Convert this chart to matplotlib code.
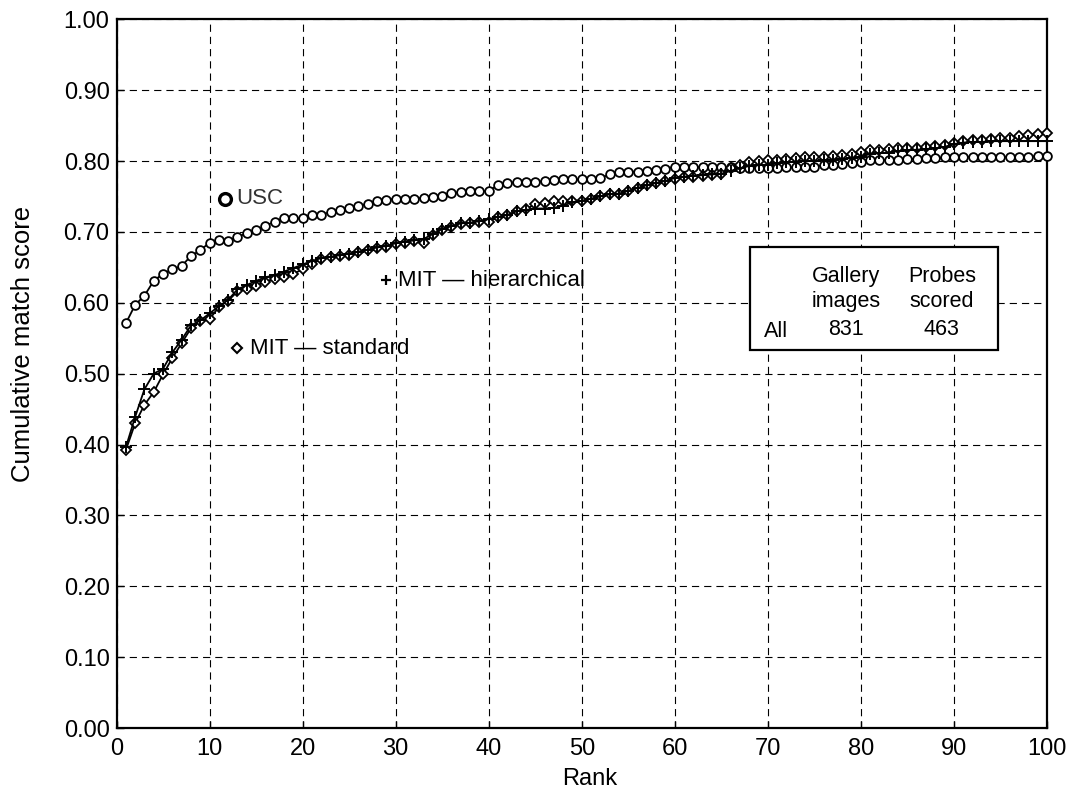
import matplotlib
matplotlib.use("Agg")
import matplotlib.pyplot as plt
from matplotlib.patches import Rectangle

plt.rcParams['font.family'] = ['Liberation Sans', 'DejaVu Sans']

# Cumulative match scores by rank (1..100)
ranks = list(range(1, 101))

usc = [
    0.571, 0.597, 0.610, 0.631, 0.641, 0.647, 0.652, 0.666, 0.674, 0.685,
    0.688, 0.687, 0.693, 0.698, 0.702, 0.709, 0.714, 0.720, 0.719, 0.719,
    0.724, 0.724, 0.728, 0.731, 0.734, 0.737, 0.739, 0.743, 0.745, 0.747,
    0.747, 0.747, 0.748, 0.749, 0.751, 0.755, 0.756, 0.757, 0.757, 0.758,
    0.766, 0.769, 0.770, 0.770, 0.770, 0.772, 0.773, 0.774, 0.774, 0.774,
    0.775, 0.776, 0.781, 0.785, 0.785, 0.785, 0.786, 0.788, 0.789, 0.792,
    0.792, 0.792, 0.791, 0.791, 0.791, 0.791, 0.790, 0.790, 0.790, 0.790,
    0.790, 0.791, 0.791, 0.792, 0.792, 0.794, 0.795, 0.796, 0.797, 0.799,
    0.801, 0.801, 0.802, 0.802, 0.803, 0.803, 0.804, 0.804, 0.805, 0.805,
    0.806, 0.806, 0.806, 0.806, 0.806, 0.806, 0.806, 0.806, 0.807, 0.807,
]

mit_standard = [
    0.392, 0.430, 0.456, 0.474, 0.499, 0.522, 0.543, 0.564, 0.574, 0.577,
    0.594, 0.603, 0.616, 0.620, 0.624, 0.630, 0.633, 0.637, 0.641, 0.647,
    0.654, 0.662, 0.664, 0.666, 0.668, 0.671, 0.674, 0.677, 0.678, 0.683,
    0.685, 0.687, 0.684, 0.696, 0.703, 0.707, 0.711, 0.713, 0.714, 0.714,
    0.721, 0.724, 0.729, 0.732, 0.739, 0.741, 0.744, 0.744, 0.744, 0.744,
    0.747, 0.750, 0.753, 0.753, 0.758, 0.762, 0.766, 0.769, 0.772, 0.775,
    0.777, 0.778, 0.779, 0.780, 0.782, 0.790, 0.794, 0.798, 0.800, 0.801,
    0.802, 0.803, 0.804, 0.805, 0.806, 0.806, 0.807, 0.808, 0.810, 0.813,
    0.815, 0.816, 0.817, 0.818, 0.818, 0.819, 0.820, 0.821, 0.822, 0.826,
    0.828, 0.829, 0.830, 0.831, 0.832, 0.833, 0.835, 0.836, 0.838, 0.840,
]

mit_hierarchical = [
    0.396, 0.439, 0.478, 0.500, 0.507, 0.530, 0.548, 0.568, 0.575, 0.585,
    0.595, 0.604, 0.619, 0.625, 0.631, 0.636, 0.639, 0.644, 0.649, 0.654,
    0.659, 0.663, 0.665, 0.667, 0.669, 0.672, 0.675, 0.678, 0.680, 0.684,
    0.686, 0.688, 0.690, 0.697, 0.704, 0.708, 0.712, 0.713, 0.715, 0.718,
    0.721, 0.724, 0.729, 0.731, 0.733, 0.733, 0.734, 0.737, 0.742, 0.744,
    0.747, 0.750, 0.753, 0.754, 0.758, 0.762, 0.766, 0.769, 0.772, 0.776,
    0.778, 0.779, 0.780, 0.781, 0.782, 0.786, 0.790, 0.793, 0.794, 0.795,
    0.797, 0.798, 0.799, 0.800, 0.800, 0.801, 0.802, 0.803, 0.804, 0.806,
    0.810, 0.811, 0.812, 0.814, 0.815, 0.816, 0.817, 0.818, 0.820, 0.824,
    0.826, 0.827, 0.827, 0.828, 0.828, 0.828, 0.828, 0.828, 0.828, 0.828,
]

x_ticks = list(range(0, 101, 10))
y_ticks = [i / 10 for i in range(11)]

table_header_1 = ["Gallery", "Probes"]
table_header_2 = ["images", "scored"]
table_row_label = "All"
table_row_values = ["831", "463"]

fig = plt.figure(figsize=(10.79, 7.96), dpi=100)
ax = fig.add_axes([0.108, 0.0854, 0.8623, 0.8904])

line_kw = dict(color='black', lw=1.3, clip_on=False, markerfacecolor='white',
               markeredgecolor='black')
ax.plot(ranks, usc, marker='o', ms=6.3, mew=1.3, zorder=3, **line_kw)
ax.plot(ranks, mit_standard, marker='D', ms=5.2, mew=1.3, zorder=4, **line_kw)
ax.plot(ranks, mit_hierarchical, marker='+', ms=8, mew=1.4, zorder=5,
        **line_kw)

ax.set_xlim(0, 100)
ax.set_ylim(0, 1.0)
ax.set_xticks(x_ticks)
ax.set_yticks(y_ticks)
ax.set_yticklabels([f"{v:.2f}" for v in y_ticks])
ax.tick_params(direction='in', length=5, width=1.0, labelsize=17,
               colors='black')
ax.tick_params(axis='x', pad=7)
ax.tick_params(axis='y', pad=5)

ax.grid(True, color='black', lw=0.8, linestyle=(0, (6.5, 4.5)))
ax.set_axisbelow(True)
for s in ax.spines.values():
    s.set_linewidth(1.6)

ax.set_xlabel("Rank", fontsize=17)
ax.xaxis.set_label_coords(0.5085, -0.072)
ax.xaxis.label.set_va('center')
ax.set_ylabel("Cumulative match score", fontsize=18.5)
ax.yaxis.set_label_coords(-0.101, 0.542)
ax.yaxis.label.set_va('center')

# Series labels placed beside the curves
label_fs = 16
ax.plot([11.66], [0.747], marker='o', ms=8.5, mew=2.4, mfc='white',
        mec='black', ls='none', zorder=6)
ax.annotate("USC", (11.66, 0.747), xytext=(8, 0), textcoords='offset points',
            ha='left', va='center', fontsize=label_fs, color='#333333')

ax.plot([12.9], [0.536], marker='D', ms=5.0, mew=1.5, mfc='white',
        mec='black', ls='none', zorder=6)
ax.annotate("MIT — standard", (12.9, 0.536), xytext=(10, 0),
            textcoords='offset points', ha='left', va='center',
            fontsize=label_fs, color='black')

ax.plot([29.0], [0.632], marker='+', ms=7, mew=1.6, color='black',
        ls='none', zorder=6)
ax.annotate("MIT — hierarchical", (29.0, 0.632), xytext=(8.5, 0),
            textcoords='offset points', ha='left', va='center',
            fontsize=label_fs, color='black')

# Summary box
box = Rectangle((0.681, 0.534), 0.266, 0.144, transform=ax.transAxes,
                facecolor='white', edgecolor='black', lw=1.6, zorder=7)
ax.add_patch(box)
table_fs = 15.5
col_x = [0.784, 0.887]
for cx, h1, h2, val in zip(col_x, table_header_1, table_header_2,
                           table_row_values):
    ax.text(cx, 0.637, h1, transform=ax.transAxes, ha='center', va='center',
            fontsize=table_fs, zorder=8)
    ax.text(cx, 0.602, h2, transform=ax.transAxes, ha='center', va='center',
            fontsize=table_fs, zorder=8)
    ax.text(cx, 0.562, val, transform=ax.transAxes, ha='center', va='center',
            fontsize=table_fs, zorder=8)
ax.text(0.709, 0.559, table_row_label, transform=ax.transAxes, ha='center',
        va='center', fontsize=table_fs, zorder=8)

fig.savefig("out.png", dpi=100)
